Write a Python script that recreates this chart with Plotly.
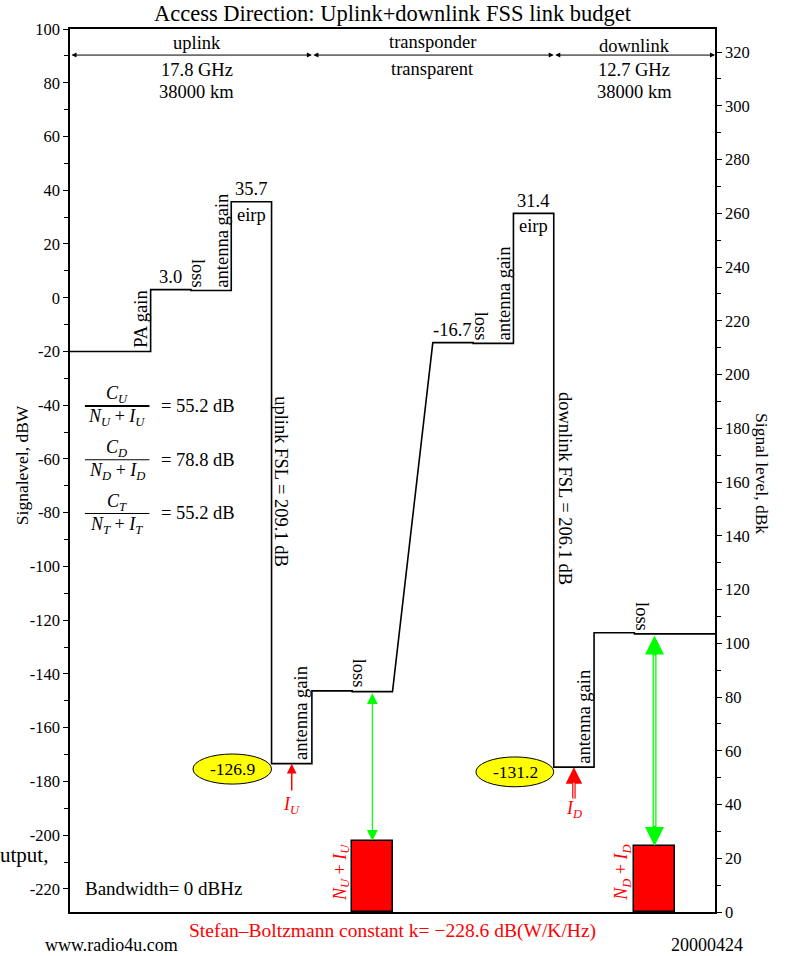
import plotly.graph_objects as go

# ---------------- data ----------------
# level-diagram segments (stage index units along the link) and signal levels in dBW
seg_start = [0, 2, 3, 4, 5, 6, 7, 9, 10, 11, 12, 13, 14]
seg_end = [2, 3, 4, 5, 6, 7, 8, 10, 11, 12, 13, 14, 16]
seg_level = [-20.0, 3.0, 2.7, 35.7, -173.4, -146.3, -146.6, -16.7, -17.0, 31.4, -174.7, -124.7, -125.1]

# noise + interference levels (dBW) and their positions
noise_x = [7.5, 14.5]
noise_level = [-202.1, -204.0]
k_dB = -228.6  # Boltzmann constant dB(W/K/Hz)

left_ticks = list(range(-220, 101, 20))
left_labels = [str(v) for v in left_ticks]
right_ticks = list(range(0, 321, 20))
right_labels = [str(v) for v in right_ticks]

FONT = "Liberation Serif"
FS = 18.5

# ---------------- figure ----------------
path_x, path_y = [], []
for a, b, lv in zip(seg_start, seg_end, seg_level):
    path_x += [a, b]
    path_y += [lv, lv]

fig = go.Figure()
fig.add_trace(go.Scatter(x=path_x, y=path_y, mode="lines",
                         line=dict(color="black", width=1.6), hoverinfo="skip", showlegend=False))
fig.add_trace(go.Bar(x=noise_x, y=[n - k_dB for n in noise_level], base=k_dB, width=1.0,
                     marker=dict(color="#ff0000", line=dict(color="black", width=1.5)),
                     showlegend=False, hoverinfo="skip"))
fig.add_trace(go.Scatter(x=[0], y=[0], yaxis="y2", mode="markers", marker=dict(opacity=0),
                         showlegend=False, hoverinfo="skip"))

ann = []


def txt(x, y, s, size=FS, color="black", angle=0, xa="center", ya="middle", xref="x", yref="y"):
    ann.append(dict(x=x, y=y, xref=xref, yref=yref, text=s, showarrow=False, textangle=angle,
                    xanchor=xa, yanchor=ya, font=dict(family=FONT, size=size, color=color)))


def arrow(x0, y0, x1, y1, color="black", width=1.2, head=2, size=1.0, side="end"):
    ann.append(dict(x=x1, y=y1, ax=x0, ay=y0, xref="x", yref="y", axref="x", ayref="y",
                    text="", showarrow=True, arrowhead=head, startarrowhead=head, arrowsize=size,
                    startarrowsize=size, arrowwidth=width, arrowcolor=color, arrowside=side,
                    standoff=0, startstandoff=0, font=dict(size=10)))


# header
arrow(0, 90.3, 6, 90.3, side="end+start", size=1.0, width=1.0)
arrow(6, 90.3, 12, 90.3, side="end+start", size=1.0, width=1.0)
arrow(12, 90.3, 16, 90.3, side="end+start", size=1.0, width=1.0)
txt(3.15, 94.8, "uplink")
txt(3.15, 84.7, "17.8 GHz")
txt(3.15, 76.6, "38000 km")
txt(9.0, 95.0, "transponder")
txt(9.0, 85.2, "transparent")
txt(14.0, 93.7, "downlink")
txt(14.0, 84.7, "12.7 GHz")
txt(14.0, 76.6, "38000 km")

# uplink labels
txt(1.74, -19.5, "PA gain", angle=-90, ya="bottom")
txt(2.5, 3.4, "3.0", ya="bottom")
txt(3.18, 3.0, "loss", angle=90, ya="bottom")
txt(3.77, 3.0, "antenna gain", angle=-90, ya="bottom")
txt(4.49, 36.0, "35.7", ya="bottom")
txt(4.5, 35.3, "eirp", ya="top")
txt(5.23, -68.6, "uplink FSL = 209.1 dB", angle=90)
txt(5.73, -172.8, "antenna gain", angle=-90, ya="bottom")
txt(7.19, -146.0, "loss", angle=90, ya="bottom")

# transponder / downlink labels
txt(9.5, -16.3, "-16.7", ya="bottom")
txt(10.2, -16.6, "loss", angle=90, ya="bottom")
txt(10.77, -16.6, "antenna gain", angle=-90, ya="bottom")
txt(11.49, 31.7, "31.4", ya="bottom")
txt(11.5, 31.0, "eirp", ya="top")
txt(12.28, -70.8, "downlink FSL = 206.1 dB", angle=90)
txt(12.75, -174.2, "antenna gain", angle=-90, ya="bottom")
txt(14.19, -124.6, "loss", angle=90, ya="bottom")

# interference arrows
arrow(5.5, -183.9, 5.5, seg_level[4], color="#ff0000", width=1.5, head=2, size=1.3)
txt(5.5, -188.8, "<i>I</i><sub><i>U</i></sub>", color="#ff0000", size=18)
arrow(12.5, -186.9, 12.5, seg_level[10], color="#ff0000", width=3.5, head=2, size=0.95)
arrow(12.5, -186.9, 12.5, -180.5, color="white", width=1.1, head=0)
txt(12.5, -190.6, "<i>I</i><sub><i>D</i></sub>", color="#ff0000", size=18)

# carrier-to-noise arrows
arrow(noise_x[0], seg_level[6], noise_x[0], noise_level[0], color="#00ff00", width=1.2,
      head=2, size=1.8, side="end+start")
arrow(noise_x[1], seg_level[12], noise_x[1], noise_level[1], color="#00ff00", width=4,
      head=2, size=0.95, side="end+start")
arrow(noise_x[1], seg_level[12] - 7.5, noise_x[1], noise_level[1] + 7.5, color="white",
      width=1.4, head=0)

txt(6.73, -214.0, "<i>N</i><sub><i>U</i></sub> + <i>I</i><sub><i>U</i></sub>", angle=-90,
    color="#ff0000", size=18)
txt(13.72, -214.0, "<i>N</i><sub><i>D</i></sub> + <i>I</i><sub><i>D</i></sub>", angle=-90,
    color="#ff0000", size=18)

# ellipse values
txt(4.02, -175.4, "-126.9", size=17.5)
txt(11.04, -176.5, "-131.2", size=17.5)

# C/(N+I) ratios
fracs = [("U", -36.2, -40.3, -44.6, "= 55.2 dB"),
         ("D", -56.2, -60.3, -64.7, "= 78.8 dB"),
         ("T", -76.2, -80.3, -84.7, "= 55.2 dB")]
for sub, yn, yb, yd, val in fracs:
    txt(1.16, yn, f"<i>C</i><sub><i>{sub}</i></sub>", size=18)
    txt(1.16, yd, f"<i>N</i><sub><i>{sub}</i></sub> + <i>I</i><sub><i>{sub}</i></sub>", size=18)
    txt(2.2, yb, val, size=18.5, xa="left")

txt(0.32, -220.0, "Bandwidth= 0 dBHz", size=19, xa="left")

# outside texts
txt(0.5, -0.021, "Stefan–Boltzmann constant k= −228.6 dB(W/K/Hz)", size=19.5, color="#ff0000",
    xref="paper", yref="paper")
txt(0.064, -0.037, "www.radio4u.com", size=18, xref="paper", yref="paper")
txt(0.988, -0.037, "20000424", size=18, xref="paper", yref="paper")
txt(-0.0744, 0.506, "Signalevel, dBW", size=17.5, angle=-90, xref="paper", yref="paper")
txt(1.073, 0.497, "Signal level, dBk", size=17.5, angle=90, xref="paper", yref="paper")
txt(-0.112, 0.0645, "utput,", size=21, xa="left", xref="paper", yref="paper")

shapes = []
shapes.append(dict(type="circle", xref="x", yref="y", x0=3.05, x1=5.0, y0=-181.0, y1=-169.8,
                   fillcolor="#ffff00", line=dict(color="black", width=1), layer="above"))
shapes.append(dict(type="circle", xref="x", yref="y", x0=10.07, x1=12.0, y0=-182.0, y1=-170.9,
                   fillcolor="#ffff00", line=dict(color="black", width=1), layer="above"))
for i, (sub, yn, yb, yd, val) in enumerate(fracs):
    shapes.append(dict(type="line", xref="x", yref="y", x0=0.37, x1=1.97, y0=yb, y1=yb,
                       line=dict(color="black", width=2 if i == 0 else 1)))

fig.update_layout(
    width=792, height=956,
    margin=dict(l=70, r=77, t=29, b=44, autoexpand=False),
    paper_bgcolor="white", plot_bgcolor="white",
    showlegend=False,
    bargap=0,
    title=dict(text="Access Direction: Uplink+downlink FSS link budget", x=0.5, xref="paper",
               y=0.9865, yref="container", yanchor="middle", xanchor="center",
               font=dict(family=FONT, size=22.5, color="black")),
    xaxis=dict(range=[0, 16], showticklabels=False, ticks="", showgrid=False, zeroline=False,
               showline=True, mirror=True, linecolor="black", linewidth=1.5, fixedrange=True),
    yaxis=dict(range=[k_dB, 100], tickvals=left_ticks, ticktext=left_labels, ticks="outside",
               ticklen=5, tickcolor="black", showgrid=False, zeroline=False, showline=True,
               linecolor="black", linewidth=1.5, automargin=False,
               minor=dict(tickvals=list(range(-210, 100, 20)), ticks="outside", ticklen=4,
                          tickcolor="black"),
               tickfont=dict(family=FONT, size=16.5, color="black")),
    yaxis2=dict(range=[0, 100 - k_dB], overlaying="y", side="right", tickvals=right_ticks,
                ticktext=right_labels, ticks="outside", ticklen=5, tickcolor="black",
                showgrid=False, zeroline=False, showline=True, linecolor="black", linewidth=1.5,
                automargin=False,
                minor=dict(tickvals=list(range(10, 330, 20)), ticks="outside", ticklen=4,
                           tickcolor="black"),
                tickfont=dict(family=FONT, size=16.5, color="black")),
    annotations=ann,
    shapes=shapes,
)

fig.write_html("out.html", config={"displayModeBar": False},
               post_script="document.body.style.margin='0';document.body.style.overflow='hidden';")
